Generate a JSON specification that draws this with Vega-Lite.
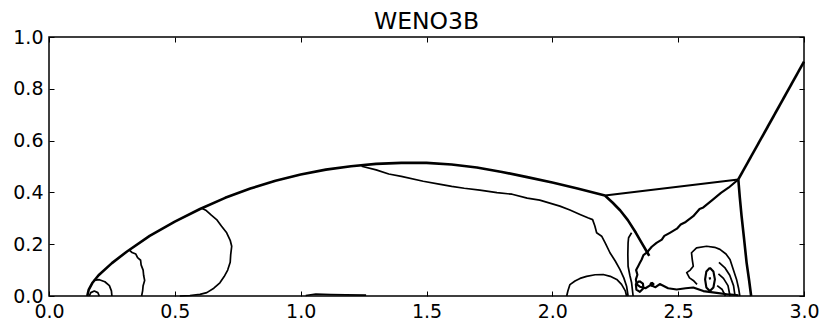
{
  "$schema": "https://vega.github.io/schema/vega-lite/v6.json",
  "autosize": {"type": "none"},
  "padding": {"left": 49, "top": 37, "right": 26, "bottom": 37},
  "width": 755,
  "height": 259,
  "title": {"text": "WENO3B", "font": "DejaVu Sans", "fontSize": 23.5, "fontWeight": "normal", "color": "black", "offset": -5},
  "config": {
    "view": {"stroke": "black", "strokeWidth": 1.5},
    "axis": {"domain": false, "grid": false, "tickColor": "black", "tickWidth": 1, "tickSize": -5, "labelFont": "DejaVu Sans", "labelFontSize": 19, "labelColor": "black", "labelPadding": 11, "title": null}
  },
  "resolve": {"axis": {"x": "independent", "y": "independent"}},
  "data": {"values": [
    {"id": "bow", "kind": "shock", "o": 0, "x": 0.152, "y": 0.0},
    {"id": "bow", "kind": "shock", "o": 1, "x": 0.158, "y": 0.025},
    {"id": "bow", "kind": "shock", "o": 2, "x": 0.172, "y": 0.05},
    {"id": "bow", "kind": "shock", "o": 3, "x": 0.197, "y": 0.08},
    {"id": "bow", "kind": "shock", "o": 4, "x": 0.25, "y": 0.127},
    {"id": "bow", "kind": "shock", "o": 5, "x": 0.31, "y": 0.172},
    {"id": "bow", "kind": "shock", "o": 6, "x": 0.4, "y": 0.232},
    {"id": "bow", "kind": "shock", "o": 7, "x": 0.5, "y": 0.287},
    {"id": "bow", "kind": "shock", "o": 8, "x": 0.6, "y": 0.336},
    {"id": "bow", "kind": "shock", "o": 9, "x": 0.7, "y": 0.379},
    {"id": "bow", "kind": "shock", "o": 10, "x": 0.8, "y": 0.415},
    {"id": "bow", "kind": "shock", "o": 11, "x": 0.9, "y": 0.445},
    {"id": "bow", "kind": "shock", "o": 12, "x": 1.0, "y": 0.469},
    {"id": "bow", "kind": "shock", "o": 13, "x": 1.1, "y": 0.488},
    {"id": "bow", "kind": "shock", "o": 14, "x": 1.2, "y": 0.501},
    {"id": "bow", "kind": "shock", "o": 15, "x": 1.3, "y": 0.51},
    {"id": "bow", "kind": "shock", "o": 16, "x": 1.4, "y": 0.514},
    {"id": "bow", "kind": "shock", "o": 17, "x": 1.5, "y": 0.514},
    {"id": "bow", "kind": "shock", "o": 18, "x": 1.6, "y": 0.508},
    {"id": "bow", "kind": "shock", "o": 19, "x": 1.7, "y": 0.496},
    {"id": "bow", "kind": "shock", "o": 20, "x": 1.8, "y": 0.479},
    {"id": "bow", "kind": "shock", "o": 21, "x": 1.9, "y": 0.459},
    {"id": "bow", "kind": "shock", "o": 22, "x": 2.0, "y": 0.438},
    {"id": "bow", "kind": "shock", "o": 23, "x": 2.1, "y": 0.415},
    {"id": "bow", "kind": "shock", "o": 24, "x": 2.209, "y": 0.388},
    {"id": "refl", "kind": "shock", "o": 0, "x": 2.209, "y": 0.388},
    {"id": "refl", "kind": "shock", "o": 1, "x": 2.24, "y": 0.36},
    {"id": "refl", "kind": "shock", "o": 2, "x": 2.27, "y": 0.33},
    {"id": "refl", "kind": "shock", "o": 3, "x": 2.3, "y": 0.293},
    {"id": "refl", "kind": "shock", "o": 4, "x": 2.332, "y": 0.244},
    {"id": "refl", "kind": "shock", "o": 5, "x": 2.355, "y": 0.205},
    {"id": "refl", "kind": "shock", "o": 6, "x": 2.378, "y": 0.167},
    {"id": "refl", "kind": "shock", "o": 7, "x": 2.385, "y": 0.155},
    {"id": "slip", "kind": "medium", "o": 0, "x": 2.209, "y": 0.388},
    {"id": "slip", "kind": "medium", "o": 1, "x": 2.739, "y": 0.45},
    {"id": "inc", "kind": "shock", "o": 0, "x": 2.739, "y": 0.45},
    {"id": "inc", "kind": "shock", "o": 1, "x": 3.0, "y": 0.905},
    {"id": "stem", "kind": "shock", "o": 0, "x": 2.739, "y": 0.45},
    {"id": "stem", "kind": "shock", "o": 1, "x": 2.745, "y": 0.38},
    {"id": "stem", "kind": "shock", "o": 2, "x": 2.752, "y": 0.308},
    {"id": "stem", "kind": "shock", "o": 3, "x": 2.762, "y": 0.22},
    {"id": "stem", "kind": "shock", "o": 4, "x": 2.772, "y": 0.128},
    {"id": "stem", "kind": "shock", "o": 5, "x": 2.782, "y": 0.06},
    {"id": "stem", "kind": "shock", "o": 6, "x": 2.79, "y": 0.0},
    {"id": "diag", "kind": "medium", "o": 0, "x": 2.739, "y": 0.45},
    {"id": "diag", "kind": "medium", "o": 1, "x": 2.7, "y": 0.418},
    {"id": "diag", "kind": "medium", "o": 2, "x": 2.67, "y": 0.398},
    {"id": "diag", "kind": "medium", "o": 3, "x": 2.639, "y": 0.373},
    {"id": "diag", "kind": "medium", "o": 4, "x": 2.6, "y": 0.342},
    {"id": "diag", "kind": "medium", "o": 5, "x": 2.585, "y": 0.336},
    {"id": "diag", "kind": "medium", "o": 6, "x": 2.56, "y": 0.308},
    {"id": "diag", "kind": "medium", "o": 7, "x": 2.53, "y": 0.286},
    {"id": "diag", "kind": "medium", "o": 8, "x": 2.51, "y": 0.276},
    {"id": "diag", "kind": "medium", "o": 9, "x": 2.495, "y": 0.26},
    {"id": "diag", "kind": "medium", "o": 10, "x": 2.467, "y": 0.244},
    {"id": "diag", "kind": "medium", "o": 11, "x": 2.445, "y": 0.232},
    {"id": "diag", "kind": "medium", "o": 12, "x": 2.435, "y": 0.218},
    {"id": "diag", "kind": "medium", "o": 13, "x": 2.414, "y": 0.205},
    {"id": "diag", "kind": "medium", "o": 14, "x": 2.395, "y": 0.19},
    {"id": "diag", "kind": "medium", "o": 15, "x": 2.375, "y": 0.167},
    {"id": "diag", "kind": "medium", "o": 16, "x": 2.362, "y": 0.158},
    {"id": "diag", "kind": "medium", "o": 17, "x": 2.355, "y": 0.141},
    {"id": "diag", "kind": "medium", "o": 18, "x": 2.348, "y": 0.128},
    {"id": "diag", "kind": "medium", "o": 19, "x": 2.341, "y": 0.115},
    {"id": "diag", "kind": "medium", "o": 20, "x": 2.333, "y": 0.1},
    {"id": "diag", "kind": "medium", "o": 21, "x": 2.338, "y": 0.082},
    {"id": "diag", "kind": "medium", "o": 22, "x": 2.332, "y": 0.064},
    {"id": "diag", "kind": "medium", "o": 23, "x": 2.335, "y": 0.045},
    {"id": "diag", "kind": "medium", "o": 24, "x": 2.348, "y": 0.036},
    {"id": "diag", "kind": "medium", "o": 25, "x": 2.37, "y": 0.03},
    {"id": "diag", "kind": "medium", "o": 26, "x": 2.39, "y": 0.042},
    {"id": "diag", "kind": "medium", "o": 27, "x": 2.41, "y": 0.034},
    {"id": "diag", "kind": "medium", "o": 28, "x": 2.427, "y": 0.046},
    {"id": "diag", "kind": "medium", "o": 29, "x": 2.46, "y": 0.03},
    {"id": "diag", "kind": "medium", "o": 30, "x": 2.494, "y": 0.025},
    {"id": "diag", "kind": "medium", "o": 31, "x": 2.53, "y": 0.03},
    {"id": "diag", "kind": "medium", "o": 32, "x": 2.56, "y": 0.033},
    {"id": "diag", "kind": "medium", "o": 33, "x": 2.6, "y": 0.019},
    {"id": "diag", "kind": "medium", "o": 34, "x": 2.653, "y": 0.012},
    {"id": "diag", "kind": "medium", "o": 35, "x": 2.7, "y": 0.006},
    {"id": "diag", "kind": "medium", "o": 36, "x": 2.74, "y": 0.003},
    {"id": "c1", "kind": "thin", "o": 0, "x": 1.242, "y": 0.501},
    {"id": "c1", "kind": "thin", "o": 1, "x": 1.3, "y": 0.487},
    {"id": "c1", "kind": "thin", "o": 2, "x": 1.35, "y": 0.471},
    {"id": "c1", "kind": "thin", "o": 3, "x": 1.4, "y": 0.462},
    {"id": "c1", "kind": "thin", "o": 4, "x": 1.487, "y": 0.443},
    {"id": "c1", "kind": "thin", "o": 5, "x": 1.55, "y": 0.432},
    {"id": "c1", "kind": "thin", "o": 6, "x": 1.6, "y": 0.423},
    {"id": "c1", "kind": "thin", "o": 7, "x": 1.65, "y": 0.416},
    {"id": "c1", "kind": "thin", "o": 8, "x": 1.712, "y": 0.409},
    {"id": "c1", "kind": "thin", "o": 9, "x": 1.78, "y": 0.399},
    {"id": "c1", "kind": "thin", "o": 10, "x": 1.84, "y": 0.393},
    {"id": "c1", "kind": "thin", "o": 11, "x": 1.9, "y": 0.378},
    {"id": "c1", "kind": "thin", "o": 12, "x": 1.95, "y": 0.37},
    {"id": "c1", "kind": "thin", "o": 13, "x": 2.03, "y": 0.347},
    {"id": "c1", "kind": "thin", "o": 14, "x": 2.07, "y": 0.332},
    {"id": "c1", "kind": "thin", "o": 15, "x": 2.11, "y": 0.315},
    {"id": "c1", "kind": "thin", "o": 16, "x": 2.141, "y": 0.302},
    {"id": "c1", "kind": "thin", "o": 17, "x": 2.16, "y": 0.295},
    {"id": "c1", "kind": "thin", "o": 18, "x": 2.169, "y": 0.27},
    {"id": "c1", "kind": "thin", "o": 19, "x": 2.176, "y": 0.244},
    {"id": "c1", "kind": "thin", "o": 20, "x": 2.196, "y": 0.231},
    {"id": "c1", "kind": "thin", "o": 21, "x": 2.21, "y": 0.205},
    {"id": "c1", "kind": "thin", "o": 22, "x": 2.229, "y": 0.167},
    {"id": "c1", "kind": "thin", "o": 23, "x": 2.25, "y": 0.135},
    {"id": "c1", "kind": "thin", "o": 24, "x": 2.269, "y": 0.102},
    {"id": "c1", "kind": "thin", "o": 25, "x": 2.284, "y": 0.07},
    {"id": "c1", "kind": "thin", "o": 26, "x": 2.295, "y": 0.038},
    {"id": "c1", "kind": "thin", "o": 27, "x": 2.301, "y": 0.0},
    {"id": "c2", "kind": "thin", "o": 0, "x": 2.315, "y": 0.244},
    {"id": "c2", "kind": "thin", "o": 1, "x": 2.303, "y": 0.225},
    {"id": "c2", "kind": "thin", "o": 2, "x": 2.301, "y": 0.205},
    {"id": "c2", "kind": "thin", "o": 3, "x": 2.3, "y": 0.16},
    {"id": "c2", "kind": "thin", "o": 4, "x": 2.301, "y": 0.115},
    {"id": "c2", "kind": "thin", "o": 5, "x": 2.308, "y": 0.08},
    {"id": "c2", "kind": "thin", "o": 6, "x": 2.315, "y": 0.051},
    {"id": "c2", "kind": "thin", "o": 7, "x": 2.321, "y": 0.0},
    {"id": "dome1", "kind": "thin", "o": 0, "x": 2.057, "y": 0.0},
    {"id": "dome1", "kind": "thin", "o": 1, "x": 2.062, "y": 0.02},
    {"id": "dome1", "kind": "thin", "o": 2, "x": 2.07, "y": 0.044},
    {"id": "dome1", "kind": "thin", "o": 3, "x": 2.09, "y": 0.058},
    {"id": "dome1", "kind": "thin", "o": 4, "x": 2.11, "y": 0.068},
    {"id": "dome1", "kind": "thin", "o": 5, "x": 2.136, "y": 0.076},
    {"id": "dome1", "kind": "thin", "o": 6, "x": 2.17, "y": 0.082},
    {"id": "dome1", "kind": "thin", "o": 7, "x": 2.202, "y": 0.083},
    {"id": "dome1", "kind": "thin", "o": 8, "x": 2.23, "y": 0.076},
    {"id": "dome1", "kind": "thin", "o": 9, "x": 2.256, "y": 0.064},
    {"id": "dome1", "kind": "thin", "o": 10, "x": 2.275, "y": 0.045},
    {"id": "dome1", "kind": "thin", "o": 11, "x": 2.29, "y": 0.02},
    {"id": "dome1", "kind": "thin", "o": 12, "x": 2.295, "y": 0.0},
    {"id": "dome2", "kind": "thin", "o": 0, "x": 2.575, "y": 0.045},
    {"id": "dome2", "kind": "thin", "o": 1, "x": 2.56, "y": 0.06},
    {"id": "dome2", "kind": "thin", "o": 2, "x": 2.545, "y": 0.07},
    {"id": "dome2", "kind": "thin", "o": 3, "x": 2.534, "y": 0.09},
    {"id": "dome2", "kind": "thin", "o": 4, "x": 2.548, "y": 0.1},
    {"id": "dome2", "kind": "thin", "o": 5, "x": 2.56, "y": 0.115},
    {"id": "dome2", "kind": "thin", "o": 6, "x": 2.556, "y": 0.14},
    {"id": "dome2", "kind": "thin", "o": 7, "x": 2.553, "y": 0.167},
    {"id": "dome2", "kind": "thin", "o": 8, "x": 2.573, "y": 0.186},
    {"id": "dome2", "kind": "thin", "o": 9, "x": 2.613, "y": 0.192},
    {"id": "dome2", "kind": "thin", "o": 10, "x": 2.645, "y": 0.188},
    {"id": "dome2", "kind": "thin", "o": 11, "x": 2.666, "y": 0.18},
    {"id": "dome2", "kind": "thin", "o": 12, "x": 2.69, "y": 0.162},
    {"id": "dome2", "kind": "thin", "o": 13, "x": 2.706, "y": 0.141},
    {"id": "dome2", "kind": "thin", "o": 14, "x": 2.719, "y": 0.102},
    {"id": "dome2", "kind": "thin", "o": 15, "x": 2.732, "y": 0.064},
    {"id": "dome2", "kind": "thin", "o": 16, "x": 2.74, "y": 0.03},
    {"id": "dome2", "kind": "thin", "o": 17, "x": 2.745, "y": 0.0},
    {"id": "oval", "kind": "medium", "o": 0, "x": 2.626, "y": 0.109},
    {"id": "oval", "kind": "medium", "o": 1, "x": 2.64, "y": 0.095},
    {"id": "oval", "kind": "medium", "o": 2, "x": 2.646, "y": 0.064},
    {"id": "oval", "kind": "medium", "o": 3, "x": 2.64, "y": 0.033},
    {"id": "oval", "kind": "medium", "o": 4, "x": 2.626, "y": 0.019},
    {"id": "oval", "kind": "medium", "o": 5, "x": 2.612, "y": 0.033},
    {"id": "oval", "kind": "medium", "o": 6, "x": 2.607, "y": 0.064},
    {"id": "oval", "kind": "medium", "o": 7, "x": 2.612, "y": 0.095},
    {"id": "oval", "kind": "medium", "o": 8, "x": 2.626, "y": 0.109},
    {"id": "dot", "kind": "medium", "o": 0, "x": 2.625, "y": 0.072},
    {"id": "dot", "kind": "medium", "o": 1, "x": 2.627, "y": 0.064},
    {"id": "rc", "kind": "thin", "o": 0, "x": 2.662, "y": 0.13},
    {"id": "rc", "kind": "thin", "o": 1, "x": 2.685, "y": 0.11},
    {"id": "rc", "kind": "thin", "o": 2, "x": 2.705, "y": 0.08},
    {"id": "rc", "kind": "thin", "o": 3, "x": 2.72, "y": 0.04},
    {"id": "rc", "kind": "thin", "o": 4, "x": 2.726, "y": 0.0},
    {"id": "rc2", "kind": "thin", "o": 0, "x": 2.66, "y": 0.085},
    {"id": "rc2", "kind": "thin", "o": 1, "x": 2.68, "y": 0.068},
    {"id": "rc2", "kind": "thin", "o": 2, "x": 2.698, "y": 0.04},
    {"id": "rc2", "kind": "thin", "o": 3, "x": 2.706, "y": 0.0},
    {"id": "rc3", "kind": "thin", "o": 0, "x": 2.655, "y": 0.04},
    {"id": "rc3", "kind": "thin", "o": 1, "x": 2.675, "y": 0.025},
    {"id": "rc3", "kind": "thin", "o": 2, "x": 2.688, "y": 0.0},
    {"id": "loop", "kind": "medium", "o": 0, "x": 2.345, "y": 0.058},
    {"id": "loop", "kind": "medium", "o": 1, "x": 2.36, "y": 0.048},
    {"id": "loop", "kind": "medium", "o": 2, "x": 2.362, "y": 0.03},
    {"id": "loop", "kind": "medium", "o": 3, "x": 2.348, "y": 0.016},
    {"id": "loop", "kind": "medium", "o": 4, "x": 2.334, "y": 0.025},
    {"id": "loop", "kind": "medium", "o": 5, "x": 2.332, "y": 0.045},
    {"id": "loop", "kind": "medium", "o": 6, "x": 2.345, "y": 0.058},
    {"id": "loop2", "kind": "medium", "o": 0, "x": 2.395, "y": 0.052},
    {"id": "loop2", "kind": "medium", "o": 1, "x": 2.402, "y": 0.046},
    {"id": "loop2", "kind": "medium", "o": 2, "x": 2.396, "y": 0.04},
    {"id": "loop2", "kind": "medium", "o": 3, "x": 2.39, "y": 0.046},
    {"id": "loop2", "kind": "medium", "o": 4, "x": 2.395, "y": 0.052},
    {"id": "o1", "kind": "thin", "o": 0, "x": 0.16, "y": 0.0},
    {"id": "o1", "kind": "thin", "o": 1, "x": 0.166, "y": 0.013},
    {"id": "o1", "kind": "thin", "o": 2, "x": 0.18, "y": 0.019},
    {"id": "o1", "kind": "thin", "o": 3, "x": 0.194, "y": 0.013},
    {"id": "o1", "kind": "thin", "o": 4, "x": 0.2, "y": 0.0},
    {"id": "a2", "kind": "thin", "o": 0, "x": 0.178, "y": 0.06},
    {"id": "a2", "kind": "thin", "o": 1, "x": 0.2, "y": 0.063},
    {"id": "a2", "kind": "thin", "o": 2, "x": 0.222, "y": 0.055},
    {"id": "a2", "kind": "thin", "o": 3, "x": 0.24, "y": 0.04},
    {"id": "a2", "kind": "thin", "o": 4, "x": 0.248, "y": 0.02},
    {"id": "a2", "kind": "thin", "o": 5, "x": 0.25, "y": 0.0},
    {"id": "a3", "kind": "thin", "o": 0, "x": 0.318, "y": 0.178},
    {"id": "a3", "kind": "thin", "o": 1, "x": 0.33, "y": 0.168},
    {"id": "a3", "kind": "thin", "o": 2, "x": 0.345, "y": 0.162},
    {"id": "a3", "kind": "thin", "o": 3, "x": 0.352, "y": 0.148},
    {"id": "a3", "kind": "thin", "o": 4, "x": 0.364, "y": 0.138},
    {"id": "a3", "kind": "thin", "o": 5, "x": 0.366, "y": 0.12},
    {"id": "a3", "kind": "thin", "o": 6, "x": 0.374, "y": 0.1},
    {"id": "a3", "kind": "thin", "o": 7, "x": 0.376, "y": 0.08},
    {"id": "a3", "kind": "thin", "o": 8, "x": 0.38, "y": 0.06},
    {"id": "a3", "kind": "thin", "o": 9, "x": 0.374, "y": 0.04},
    {"id": "a3", "kind": "thin", "o": 10, "x": 0.372, "y": 0.02},
    {"id": "a3", "kind": "thin", "o": 11, "x": 0.368, "y": 0.0},
    {"id": "a4", "kind": "thin", "o": 0, "x": 0.605, "y": 0.34},
    {"id": "a4", "kind": "thin", "o": 1, "x": 0.625, "y": 0.33},
    {"id": "a4", "kind": "thin", "o": 2, "x": 0.645, "y": 0.312},
    {"id": "a4", "kind": "thin", "o": 3, "x": 0.666, "y": 0.295},
    {"id": "a4", "kind": "thin", "o": 4, "x": 0.685, "y": 0.27},
    {"id": "a4", "kind": "thin", "o": 5, "x": 0.706, "y": 0.244},
    {"id": "a4", "kind": "thin", "o": 6, "x": 0.72, "y": 0.215},
    {"id": "a4", "kind": "thin", "o": 7, "x": 0.726, "y": 0.192},
    {"id": "a4", "kind": "thin", "o": 8, "x": 0.722, "y": 0.16},
    {"id": "a4", "kind": "thin", "o": 9, "x": 0.72, "y": 0.13},
    {"id": "a4", "kind": "thin", "o": 10, "x": 0.71, "y": 0.1},
    {"id": "a4", "kind": "thin", "o": 11, "x": 0.696, "y": 0.075},
    {"id": "a4", "kind": "thin", "o": 12, "x": 0.679, "y": 0.051},
    {"id": "a4", "kind": "thin", "o": 13, "x": 0.655, "y": 0.03},
    {"id": "a4", "kind": "thin", "o": 14, "x": 0.627, "y": 0.013},
    {"id": "a4", "kind": "thin", "o": 15, "x": 0.6, "y": 0.006},
    {"id": "a4", "kind": "thin", "o": 16, "x": 0.56, "y": 0.002},
    {"id": "a4", "kind": "thin", "o": 17, "x": 0.52, "y": 0.0},
    {"id": "b1", "kind": "thin", "o": 0, "x": 1.02, "y": 0.002},
    {"id": "b1", "kind": "thin", "o": 1, "x": 1.06, "y": 0.007},
    {"id": "b1", "kind": "thin", "o": 2, "x": 1.12, "y": 0.005},
    {"id": "b1", "kind": "thin", "o": 3, "x": 1.18, "y": 0.004},
    {"id": "b1", "kind": "thin", "o": 4, "x": 1.26, "y": 0.003}
  ]},
  "layer": [
    {
      "mark": {"type": "line", "color": "black", "interpolate": "linear", "strokeJoin": "round"},
      "encoding": {
        "x": {"field": "x", "type": "quantitative", "scale": {"domain": [0, 3], "nice": false}, "axis": {"orient": "bottom", "values": [0, 0.5, 1, 1.5, 2, 2.5, 3], "format": ".1f", "labelFlush": false}},
        "y": {"field": "y", "type": "quantitative", "scale": {"domain": [0, 1], "nice": false}, "axis": {"orient": "left", "values": [0, 0.2, 0.4, 0.6, 0.8, 1], "format": ".1f", "labelFlush": false}},
        "detail": {"field": "id"},
        "order": {"field": "o"},
        "strokeWidth": {"field": "kind", "type": "nominal", "scale": {"domain": ["shock", "medium", "thin"], "range": [2.6, 1.7, 1.1]}, "legend": null}
      }
    },
    {
      "mark": {"type": "line", "opacity": 0},
      "encoding": {
        "x": {"field": "x", "type": "quantitative", "axis": {"orient": "top", "values": [0, 0.5, 1, 1.5, 2, 2.5, 3], "labels": false}},
        "y": {"field": "y", "type": "quantitative", "axis": {"orient": "right", "values": [0, 0.2, 0.4, 0.6, 0.8, 1], "labels": false}},
        "detail": {"field": "id"},
        "order": {"field": "o"}
      }
    }
  ]
}
